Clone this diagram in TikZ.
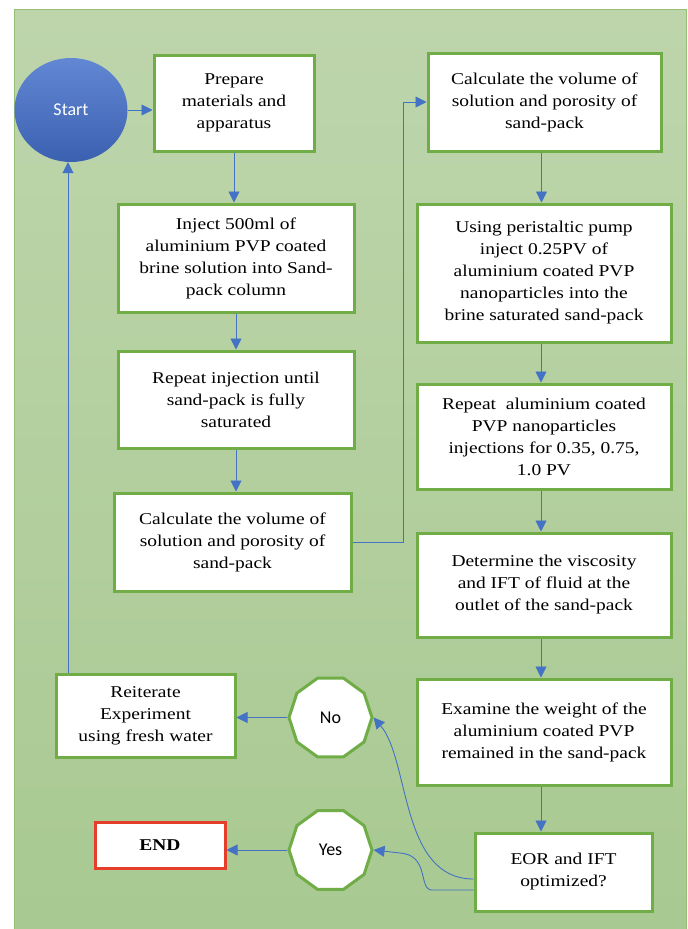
\documentclass[tikz,border=0pt]{standalone}
\usepackage{fontspec}
\setmainfont{Liberation Serif}[FakeStretch=1.18]
\newfontfamily\calibri{Carlito}
\usetikzlibrary{shapes.geometric,arrows.meta}
\definecolor{boxgreen}{HTML}{70AD47}
\definecolor{arrblue}{HTML}{4472C4}
\definecolor{bgtop}{RGB}{190,213,172}
\definecolor{bgbot}{RGB}{168,201,145}
\definecolor{bgedge}{RGB}{150,190,120}
\definecolor{starttop}{RGB}{98,136,212}
\definecolor{startbot}{RGB}{58,96,176}
\definecolor{endred}{HTML}{E53E2B}
\begin{document}
\begin{tikzpicture}[x=1pt,y=-1pt,
  box/.style={draw=boxgreen,line width=3pt,fill=white,align=center,inner sep=0pt,
    font=\fontsize{16.5}{22}\selectfont},
  arr/.style={draw=arrblue,line width=0.9pt,-{Triangle[length=11pt,width=11pt]}},
  dec/.style={regular polygon,regular polygon sides=10,draw=boxgreen,line width=3pt,
    fill=white,minimum size=83pt,inner sep=0pt,font=\calibri\fontsize{18}{20}\selectfont}]
\path[use as bounding box] (0,0) rectangle (688,929);
\shade[top color=bgtop,bottom color=bgbot,draw=bgedge,line width=0.8pt] (14,9) rectangle (686,935);

% left column
\node[ellipse,minimum width=113pt,minimum height=104pt,inner sep=0pt,
  shade,top color=starttop,bottom color=startbot,text=white,
  font=\calibri\fontsize{18}{20}\selectfont] (start) at (71,110) {Start};
\node[box,minimum width=160pt,minimum height=96pt] (prep) at (234,103)
  {Prepare\\materials and\\apparatus};
\node[box,minimum width=236pt,minimum height=108pt] (inj) at (236,258)
  {Inject 500ml of\\aluminium PVP coated\\brine solution into Sand-\\pack column};
\node[box,minimum width=236pt,minimum height=97pt] (repinj) at (236,399.5)
  {Repeat injection until\\sand-pack is fully\\saturated};
\node[box,minimum width=237pt,minimum height=98pt] (calcl) at (232.5,542)
  {Calculate the volume of\\solution and porosity of\\sand-pack};
\node[box,minimum width=179pt,minimum height=83pt] (reit) at (145.5,715.5)
  {Reiterate\\Experiment\\using fresh water};
\node[box,draw=endred,minimum width=130pt,minimum height=46pt,font=\fontsize{16.5}{22}\selectfont\bfseries] (end) at (160,845) {END};
\node[dec] (no) at (330.5,717.5) {No};
\node[dec] (yes) at (330.5,850) {Yes};

% right column
\node[box,minimum width=233pt,minimum height=98pt] (calcr) at (544.5,102)
  {Calculate the volume of\\solution and porosity of\\sand-pack};
\node[box,minimum width=254pt,minimum height=138pt] (using) at (544,273)
  {Using peristaltic pump\\inject 0.25PV of\\aluminium coated PVP\\nanoparticles into the\\brine saturated sand-pack};
\node[box,minimum width=254pt,minimum height=105pt] (repal) at (544,436.5)
  {Repeat \ aluminium coated\\PVP nanoparticles\\injections for 0.35, 0.75,\\1.0 PV};
\node[box,minimum width=254pt,minimum height=104pt] (det) at (544,585)
  {Determine the viscosity\\and IFT of fluid at the\\outlet of the sand-pack};
\node[box,minimum width=254pt,minimum height=106pt] (exam) at (544,732)
  {Examine the weight of the\\aluminium coated PVP\\remained in the sand-pack};
\node[box,minimum width=177pt,minimum height=78pt] (eor) at (563.5,872)
  {EOR and IFT\\optimized?};

% connectors
\draw[arr] (start.east) -- (start.east -| prep.west);
\draw[arr] (prep.south) -- (prep.south |- inj.north);
\draw[arr] (inj.south) -- (inj.south |- repinj.north);
\draw[arr] (repinj.south) -- (repinj.south |- calcl.north);
\draw[arr] (calcl.east) -- ++(51,0) |- (calcr.west);
\draw[arr] ([xshift=-3pt]calcr.south) -- ([xshift=-3pt]calcr.south |- using.north);
\draw[arr] ([xshift=-3pt]using.south) -- ([xshift=-3pt]using.south |- repal.north);
\draw[arr] ([xshift=-3pt]repal.south) -- ([xshift=-3pt]repal.south |- det.north);
\draw[arr] ([xshift=-3pt]det.south) -- ([xshift=-3pt]det.south |- exam.north);
\draw[arr] ([xshift=-3pt]exam.south) -- ([xshift=-3pt]exam.south |- eor.north);
\draw[arr] ([yshift=-7pt]eor.west) .. controls (400,879) and (410,760) .. (no.east);
\draw[arr] ([yshift=-18pt]eor.west) -- (432,890) .. controls (418,890) and (430,855) .. (400,853) -- (yes.east);
\draw[arr] (no.west) -- (no.west -| reit.east);
\draw[arr] (yes.west) -- (yes.west -| end.east);
\draw[arr] ([xshift=-3pt]start.south |- reit.north) -- ([xshift=-3pt]start.south);
\end{tikzpicture}
\end{document}
